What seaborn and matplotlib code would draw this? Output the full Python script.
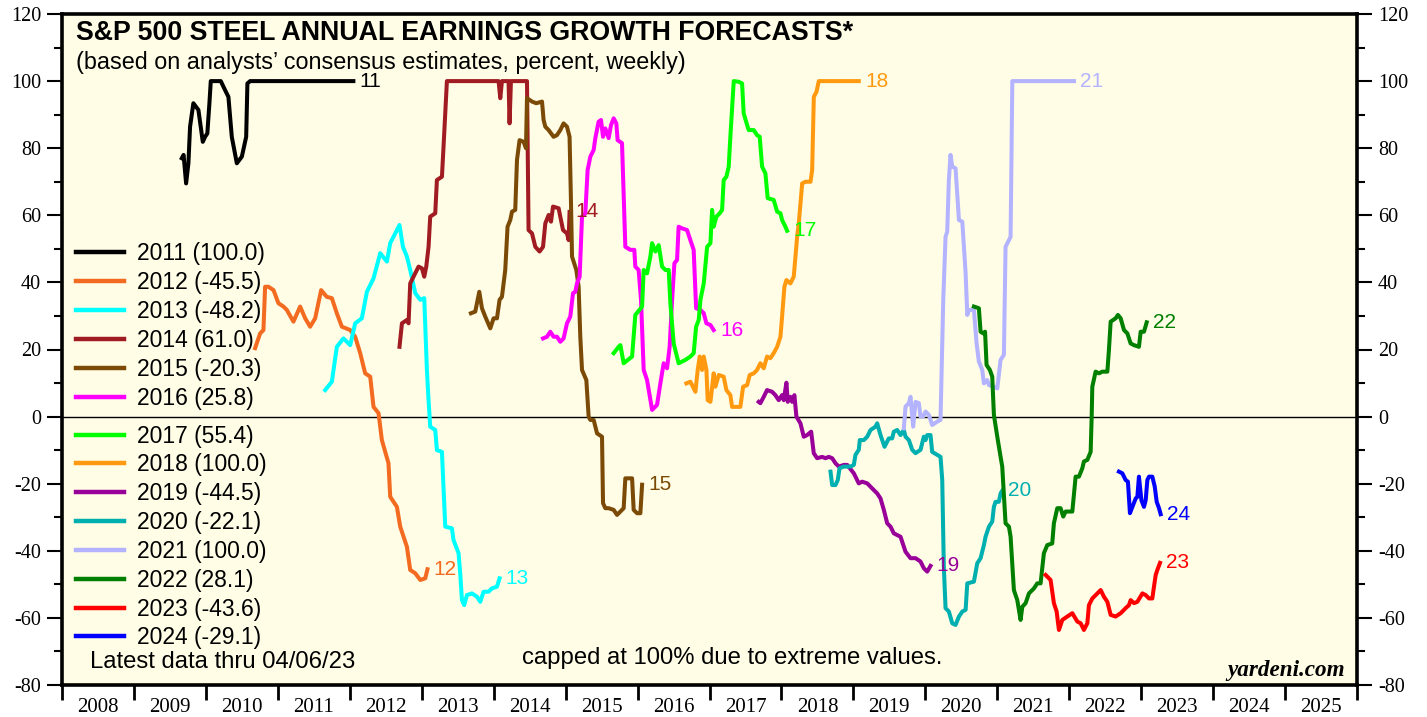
import matplotlib
matplotlib.use("Agg")
import matplotlib.pyplot as plt
from matplotlib.lines import Line2D
import numpy as np
import pandas as pd
import seaborn as sns

# ---------------- data ----------------
series_years = ["2011", "2012", "2013", "2014", "2015", "2016", "2017",
                "2018", "2019", "2020", "2021", "2022", "2023", "2024"]
final_values = [100.0, -45.5, -48.2, 61.0, -20.3, 25.8, 55.4,
                100.0, -44.5, -22.1, 100.0, 28.1, -43.6, -29.1]
colors = ["#000000", "#F26B21", "#00FFFF", "#A11C22", "#7B4A06", "#FF00FF", "#00FF00",
          "#FF9A10", "#990099", "#00AFAF", "#B3B3FF", "#007F00", "#FF0000", "#0000FF"]

s2011 = [(2009.665, 77.0), (2009.69, 78.0), (2009.725, 69.5), (2009.757, 75.5), (2009.78, 86.4),
         (2009.826, 93.4), (2009.896, 91.4), (2009.957, 81.9), (2009.989, 83.4), (2010.02, 84.4),
         (2010.049, 93.4), (2010.068, 100.0), (2010.207, 100.0), (2010.267, 97.3), (2010.313, 95.3),
         (2010.36, 83.4), (2010.43, 75.5), (2010.5, 77.5), (2010.56, 83.4), (2010.577, 99.3),
         (2010.615, 100.0), (2012.05, 100.0)]
s2012 = [(2010.684, 20.4), (2010.754, 24.8), (2010.8, 25.8), (2010.823, 38.7), (2010.87, 38.7),
         (2010.94, 37.7), (2011.008, 33.8), (2011.078, 32.8), (2011.125, 31.8), (2011.217, 28.3),
         (2011.31, 32.8), (2011.38, 29.3), (2011.449, 26.8), (2011.519, 29.3), (2011.602, 37.7),
         (2011.68, 35.7), (2011.751, 35.3), (2011.82, 30.8), (2011.89, 26.8), (2012.006, 25.8),
         (2012.075, 23.8), (2012.145, 18.9), (2012.214, 12.9), (2012.284, 11.9), (2012.33, 2.9),
         (2012.4, 1.0), (2012.446, -7.0), (2012.538, -13.9), (2012.562, -23.9), (2012.655, -26.9),
         (2012.701, -32.8), (2012.794, -38.8), (2012.84, -45.7), (2012.91, -46.7), (2012.98, -48.7),
         (2013.049, -48.2), (2013.08, -45.5)]
s2013 = [(2011.658, 7.9), (2011.751, 10.4), (2011.82, 20.8), (2011.912, 23.3), (2012.006, 21.3),
         (2012.075, 27.8), (2012.168, 29.3), (2012.238, 37.2), (2012.33, 41.2), (2012.423, 48.7),
         (2012.516, 46.2), (2012.562, 51.7), (2012.632, 54.6), (2012.691, 57.1), (2012.739, 50.6),
         (2012.794, 47.7), (2012.84, 43.7), (2012.91, 36.8), (2012.98, 34.8), (2013.035, 35.3),
         (2013.072, 13.9), (2013.095, 4.9), (2013.118, -3.0), (2013.188, -4.0), (2013.211, -10.0),
         (2013.281, -10.5), (2013.327, -32.8), (2013.42, -33.3), (2013.442, -36.8), (2013.512, -40.7),
         (2013.535, -46.7), (2013.559, -54.7), (2013.591, -56.2), (2013.628, -53.2), (2013.698, -52.7),
         (2013.768, -53.7), (2013.814, -55.2), (2013.86, -52.2), (2013.929, -52.2), (2013.976, -51.2),
         (2014.046, -50.7), (2014.082, -48.2)]
s2014 = [(2012.691, 20.8), (2012.725, 27.8), (2012.794, 28.8), (2012.817, 27.8), (2012.84, 39.7),
         (2012.886, 41.7), (2012.956, 44.7), (2013.003, 44.2), (2013.035, 41.7), (2013.063, 44.7),
         (2013.095, 50.6), (2013.118, 59.6), (2013.188, 60.6), (2013.211, 70.5), (2013.281, 71.5),
         (2013.303, 80.4), (2013.35, 100.0), (2014.068, 100.0), (2014.092, 94.9), (2014.115, 100.0),
         (2014.207, 100.0), (2014.221, 87.4), (2014.24, 100.0), (2014.463, 100.0), (2014.485, 55.6),
         (2014.533, 54.6), (2014.579, 50.6), (2014.638, 49.2), (2014.686, 50.6), (2014.718, 57.6),
         (2014.764, 60.1), (2014.797, 58.1), (2014.825, 62.6), (2014.903, 62.1), (2014.926, 59.6),
         (2014.964, 55.6), (2015.019, 54.6), (2015.042, 52.6), (2015.055, 61.0)]
s2015 = [(2013.684, 30.8), (2013.744, 31.3), (2013.8, 37.2), (2013.837, 32.3), (2013.883, 29.8),
         (2013.953, 26.3), (2013.999, 29.3), (2014.046, 29.3), (2014.082, 34.8), (2014.115, 35.7),
         (2014.161, 43.7), (2014.193, 56.6), (2014.231, 58.6), (2014.255, 61.1), (2014.3, 61.6),
         (2014.324, 76.5), (2014.36, 82.4), (2014.416, 81.9), (2014.449, 80.0), (2014.463, 94.9),
         (2014.533, 93.9), (2014.592, 93.4), (2014.672, 93.9), (2014.694, 88.4), (2014.718, 86.4),
         (2014.764, 85.4), (2014.833, 83.4), (2014.88, 83.9), (2014.926, 85.4), (2014.972, 87.4),
         (2015.019, 86.4), (2015.055, 83.4), (2015.075, 63.6), (2015.089, 47.7), (2015.149, 43.7),
         (2015.181, 38.7), (2015.204, 23.8), (2015.228, 13.9), (2015.288, 10.9), (2015.32, 0.0),
         (2015.344, -1.0), (2015.39, -1.0), (2015.437, -5.0), (2015.506, -6.0), (2015.52, -25.8),
         (2015.552, -27.3), (2015.598, -27.3), (2015.668, -27.8), (2015.715, -29.3), (2015.761, -28.3),
         (2015.807, -27.3), (2015.83, -18.4), (2015.924, -18.4), (2015.946, -27.8), (2015.993, -28.8),
         (2016.039, -28.8), (2016.063, -20.3)]
s2016 = [(2014.686, 23.3), (2014.741, 23.8), (2014.787, 25.3), (2014.833, 23.8), (2014.88, 23.8),
         (2014.926, 22.3), (2014.972, 23.3), (2015.019, 27.8), (2015.065, 29.8), (2015.103, 36.8),
         (2015.135, 37.2), (2015.158, 39.7), (2015.195, 41.7), (2015.228, 59.6), (2015.274, 60.6),
         (2015.306, 73.5), (2015.344, 77.5), (2015.39, 79.5), (2015.413, 83.0), (2015.459, 87.9),
         (2015.492, 88.4), (2015.52, 83.4), (2015.552, 85.9), (2015.598, 83.0), (2015.631, 86.9),
         (2015.668, 88.9), (2015.705, 87.4), (2015.723, 82.4), (2015.784, 81.5), (2015.83, 50.6),
         (2015.9, 49.7), (2015.955, 49.7), (2015.969, 44.7), (2016.015, 43.7), (2016.048, 34.8),
         (2016.085, 13.9), (2016.132, 10.9), (2016.202, 2.0), (2016.271, 3.5), (2016.317, 9.9),
         (2016.363, 15.9), (2016.41, 14.4), (2016.446, 20.8), (2016.48, 34.8), (2016.512, 45.7),
         (2016.549, 46.7), (2016.571, 56.6), (2016.619, 56.1), (2016.688, 55.6), (2016.734, 52.6),
         (2016.78, 49.7), (2016.814, 32.3), (2016.874, 31.8), (2016.92, 30.8), (2016.957, 27.8),
         (2017.013, 27.3), (2017.058, 25.8)]
s2017 = [(2015.668, 18.9), (2015.737, 20.8), (2015.761, 21.3), (2015.807, 15.9), (2015.924, 17.9),
         (2015.969, 30.3), (2016.063, 32.8), (2016.085, 43.7), (2016.132, 42.7), (2016.178, 47.7),
         (2016.202, 51.7), (2016.248, 49.2), (2016.294, 51.1), (2016.341, 44.7), (2016.387, 43.7),
         (2016.433, 43.7), (2016.456, 33.8), (2016.502, 21.8), (2016.571, 15.9), (2016.665, 16.9),
         (2016.734, 17.9), (2016.78, 18.9), (2016.814, 26.8), (2016.85, 28.8), (2016.874, 34.8),
         (2016.92, 39.7), (2016.967, 50.6), (2017.013, 51.7), (2017.036, 61.6), (2017.058, 56.6),
         (2017.096, 59.6), (2017.142, 60.6), (2017.175, 61.6), (2017.197, 70.5), (2017.235, 71.5),
         (2017.267, 74.5), (2017.29, 83.4), (2017.337, 100.0), (2017.406, 99.8), (2017.453, 99.3),
         (2017.475, 90.4), (2017.523, 86.9), (2017.545, 85.4), (2017.615, 85.4), (2017.661, 83.9),
         (2017.698, 83.4), (2017.731, 74.5), (2017.777, 72.5), (2017.809, 65.1), (2017.892, 64.6),
         (2017.94, 61.1), (2017.986, 60.6), (2018.009, 58.6), (2018.055, 56.6), (2018.079, 55.4)]
s2018 = [(2016.679, 9.9), (2016.734, 10.4), (2016.804, 7.4), (2016.836, 13.9), (2016.864, 17.9),
         (2016.897, 13.9), (2016.92, 17.9), (2016.957, 13.9), (2016.975, 4.9), (2017.013, 4.4),
         (2017.058, 12.9), (2017.082, 8.9), (2017.128, 12.4), (2017.197, 11.9), (2017.235, 7.9),
         (2017.29, 6.4), (2017.314, 2.9), (2017.429, 2.9), (2017.467, 8.9), (2017.523, 9.4),
         (2017.559, 12.4), (2017.615, 12.9), (2017.661, 13.9), (2017.707, 15.9), (2017.754, 14.4),
         (2017.8, 17.9), (2017.846, 17.4), (2017.892, 18.9), (2017.94, 20.8), (2017.986, 23.8),
         (2018.009, 29.8), (2018.041, 38.7), (2018.069, 40.7), (2018.125, 39.7), (2018.171, 41.7),
         (2018.218, 53.6), (2018.241, 57.6), (2018.288, 69.5), (2018.334, 70.0), (2018.404, 70.0),
         (2018.427, 73.5), (2018.45, 95.3), (2018.487, 96.8), (2018.519, 100.0), (2019.075, 100.0)]
s2019 = [(2017.684, 4.4), (2017.707, 4.0), (2017.754, 5.9), (2017.8, 7.9), (2017.87, 7.4),
         (2017.916, 6.4), (2017.962, 4.9), (2018.009, 6.4), (2018.032, 4.9), (2018.069, 10.1),
         (2018.088, 4.4), (2018.125, 5.9), (2018.148, 4.4), (2018.18, 6.4), (2018.208, 0.0),
         (2018.264, -2.0), (2018.31, -6.0), (2018.357, -5.5), (2018.413, -4.5), (2018.449, -10.9),
         (2018.496, -12.4), (2018.566, -12.0), (2018.612, -12.4), (2018.658, -12.0), (2018.705, -12.4),
         (2018.751, -13.9), (2018.798, -14.9), (2018.867, -14.4), (2018.914, -14.4), (2019.006, -16.9),
         (2019.075, -19.9), (2019.122, -19.4), (2019.192, -19.9), (2019.261, -21.4), (2019.331, -22.9),
         (2019.377, -24.4), (2019.423, -27.8), (2019.47, -31.8), (2019.516, -32.8), (2019.562, -34.8),
         (2019.655, -35.8), (2019.725, -40.3), (2019.794, -42.2), (2019.864, -42.2), (2019.933, -43.2),
         (2019.979, -45.2), (2020.026, -46.2), (2020.072, -44.5)]
s2020 = [(2018.682, -16.4), (2018.705, -20.4), (2018.751, -20.4), (2018.783, -18.9), (2018.807, -15.4),
         (2018.867, -14.9), (2018.96, -14.9), (2019.006, -14.4), (2019.029, -11.4), (2019.075, -9.9),
         (2019.089, -7.0), (2019.145, -7.0), (2019.192, -6.0), (2019.238, -4.0), (2019.307, -3.0),
         (2019.331, -2.0), (2019.377, -5.5), (2019.433, -9.0), (2019.492, -6.5), (2019.539, -6.5),
         (2019.562, -4.5), (2019.609, -4.0), (2019.655, -5.5), (2019.701, -4.0), (2019.725, -6.0),
         (2019.771, -7.0), (2019.818, -9.9), (2019.864, -10.9), (2019.933, -9.9), (2019.979, -6.0),
         (2020.003, -7.0), (2020.026, -5.5), (2020.072, -5.5), (2020.095, -10.5), (2020.165, -11.4),
         (2020.211, -12.0), (2020.235, -18.9), (2020.257, -44.7), (2020.281, -57.1), (2020.327, -58.1),
         (2020.374, -61.6), (2020.42, -62.1), (2020.467, -59.6), (2020.514, -58.1), (2020.56, -57.6),
         (2020.583, -49.7), (2020.675, -49.2), (2020.722, -43.7), (2020.768, -42.2), (2020.814, -38.3),
         (2020.837, -35.8), (2020.884, -32.8), (2020.93, -31.3), (2020.953, -26.9), (2020.976, -25.4),
         (2021.022, -25.4), (2021.046, -22.9), (2021.069, -22.1)]
s2021 = [(2019.701, -3.5), (2019.725, 3.0), (2019.771, 4.0), (2019.794, 5.9), (2019.831, -3.0),
         (2019.864, 4.4), (2019.91, 4.0), (2019.933, 0.0), (2019.97, 0.0), (2020.003, 1.5),
         (2020.049, 0.5), (2020.095, -2.5), (2020.165, -1.5), (2020.211, -1.0), (2020.249, 34.8),
         (2020.281, 53.6), (2020.304, 55.1), (2020.327, 70.5), (2020.35, 78.0), (2020.374, 74.5),
         (2020.42, 74.0), (2020.467, 58.6), (2020.514, 58.1), (2020.56, 42.7), (2020.583, 30.3),
         (2020.606, 31.8), (2020.675, 31.8), (2020.713, 21.8), (2020.744, 16.4), (2020.791, 13.9),
         (2020.814, 9.9), (2020.86, 10.9), (2020.884, 9.4), (2020.953, 8.9), (2021.0, 8.4),
         (2021.046, 16.9), (2021.092, 18.4), (2021.115, 50.6), (2021.162, 52.6), (2021.185, 53.6),
         (2021.209, 100.0), (2022.066, 100.0)]
s2022 = [(2020.675, 32.8), (2020.744, 32.3), (2020.768, 25.3), (2020.805, 24.8), (2020.83, 25.3),
         (2020.851, 15.4), (2020.897, 13.9), (2020.93, 11.9), (2020.953, 0.5), (2021.0, -6.0),
         (2021.046, -12.0), (2021.069, -14.9), (2021.115, -31.8), (2021.162, -32.8), (2021.185, -35.8),
         (2021.231, -51.7), (2021.278, -54.7), (2021.324, -60.6), (2021.348, -56.7), (2021.394, -55.6),
         (2021.44, -52.7), (2021.51, -51.2), (2021.556, -49.7), (2021.602, -49.7), (2021.648, -40.7),
         (2021.695, -38.3), (2021.764, -37.8), (2021.787, -31.8), (2021.834, -27.3), (2021.88, -27.3),
         (2021.917, -29.8), (2021.95, -28.3), (2022.043, -28.3), (2022.089, -17.9), (2022.135, -17.9),
         (2022.182, -15.4), (2022.204, -13.4), (2022.252, -12.9), (2022.298, -10.5), (2022.312, 0.0),
         (2022.321, 8.9), (2022.367, 13.4), (2022.413, 12.9), (2022.46, 13.4), (2022.53, 13.4),
         (2022.552, 19.9), (2022.576, 28.3), (2022.645, 29.3), (2022.677, 30.3), (2022.715, 29.3),
         (2022.761, 25.8), (2022.808, 24.8), (2022.854, 21.8), (2022.9, 21.3), (2022.969, 20.8),
         (2022.993, 25.3), (2023.039, 25.3), (2023.077, 28.1)]
s2023 = [(2021.672, -47.2), (2021.741, -48.7), (2021.787, -55.6), (2021.825, -58.1), (2021.857, -63.6),
         (2021.904, -60.6), (2021.973, -59.6), (2022.043, -58.6), (2022.113, -61.1), (2022.159, -61.6),
         (2022.204, -63.6), (2022.252, -61.6), (2022.274, -56.2), (2022.321, -54.2), (2022.391, -52.7),
         (2022.437, -51.7), (2022.483, -53.7), (2022.53, -55.2), (2022.576, -59.1), (2022.645, -59.6),
         (2022.715, -58.6), (2022.784, -57.1), (2022.83, -56.2), (2022.854, -54.7), (2022.9, -55.6),
         (2022.947, -55.2), (2023.017, -52.7), (2023.063, -53.2), (2023.109, -54.2), (2023.155, -54.2),
         (2023.178, -50.7), (2023.202, -47.2), (2023.225, -45.7), (2023.262, -43.6)]
s2024 = [(2022.691, -16.4), (2022.738, -16.9), (2022.784, -18.9), (2022.816, -19.4), (2022.844, -28.8),
         (2022.878, -26.9), (2022.924, -24.4), (2022.947, -23.9), (2022.969, -17.9), (2023.003, -24.9),
         (2023.039, -26.9), (2023.063, -24.9), (2023.086, -18.9), (2023.109, -17.9), (2023.155, -17.9),
         (2023.188, -20.8), (2023.216, -25.4), (2023.248, -27.3), (2023.271, -29.1)]

all_series = [s2011, s2012, s2013, s2014, s2015, s2016, s2017,
              s2018, s2019, s2020, s2021, s2022, s2023, s2024]

year_ticks = list(range(2008, 2027))
year_labels = [str(y) for y in range(2008, 2026)]
y_major = list(range(-80, 121, 20))
y_minor = list(range(-70, 120, 20))

title = "S&P 500 STEEL ANNUAL EARNINGS GROWTH FORECASTS*"
subtitle = "(based on analysts\u2019 consensus estimates, percent, weekly)"
note_latest = "Latest data thru 04/06/23"
note_cap = "capped at 100% due to extreme values."
source = "yardeni.com"

# ---------------- frame ----------------
rows = []
for name, pts in zip(series_years, all_series):
    for i, (x, y) in enumerate(pts):
        rows.append((name, i, x, y))
df = pd.DataFrame(rows, columns=["series", "order", "year", "value"])

plt.rcParams["font.family"] = ["Liberation Serif", "DejaVu Serif"]
plt.rcParams["axes.unicode_minus"] = False
SANS = ["Liberation Sans", "DejaVu Sans"]

W, H = 1427, 717
fig = plt.figure(figsize=(W / 100, H / 100), dpi=100)
fig.patch.set_facecolor("white")
L, R, T, B = 62, 1357, 14, 685
ax = fig.add_axes([L / W, 1 - B / H, (R - L) / W, (B - T) / H])
ax.set_facecolor("#FFFDE6")

ax.axhline(0, color="black", lw=1.0, zorder=1)

palette = dict(zip(series_years, colors))
sns.lineplot(data=df, x="year", y="value", hue="series", hue_order=series_years,
             palette=palette, estimator=None, sort=False, legend=False,
             linewidth=2.9, ax=ax, zorder=3)

ax.set_xlim(2008, 2026)
ax.set_ylim(-80, 120)
ax.set_xlabel("")
ax.set_ylabel("")

# end labels
for name, pts, c in zip(series_years, all_series, colors):
    x, y = pts[-1]
    ax.annotate(name[-2:], xy=(x, y), xytext=(4.5, 0), textcoords="offset points",
                va="center", ha="left", color=c, fontsize=15, family=SANS, zorder=4)

# ticks
ax.set_xticks(year_ticks)
ax.set_xticklabels([])
ax.set_xticks([y + 0.5 for y in range(2008, 2026)], minor=True)
ax.set_xticklabels(year_labels, minor=True)
ax.tick_params(axis="x", which="major", direction="out", length=11, width=2, bottom=True, top=False)
ax.tick_params(axis="x", which="minor", length=0, pad=9, labelsize=15)

ax.set_yticks(y_major)
ax.set_yticks(y_minor, minor=True)
ax.tick_params(axis="y", which="both", direction="out", left=True, right=True,
               labelleft=True, labelright=True, width=1.5)
ax.tick_params(axis="y", which="major", length=11, pad=4, labelsize=14.5)
ax.tick_params(axis="y", which="minor", length=6)

for s in ax.spines.values():
    s.set_linewidth(2.6)
    s.set_color("black")

# titles & notes
ax.text(0.0108, 0.972, title, transform=ax.transAxes, ha="left", va="center",
        fontsize=19.3, fontweight="bold", family=SANS)
ax.text(0.0108, 0.928, subtitle, transform=ax.transAxes, ha="left", va="center",
        fontsize=16.8, family=SANS)
ax.text(0.0216, 0.034, note_latest, transform=ax.transAxes, ha="left", va="center",
        fontsize=17.2, family=SANS)
ax.text(0.355, 0.040, note_cap, transform=ax.transAxes, ha="left", va="center",
        fontsize=17.2, family=SANS)
ax.text(0.9907, 0.022, source, transform=ax.transAxes, ha="right", va="center",
        fontsize=16.7, fontweight="bold", fontstyle="italic", family=["Liberation Serif"])

# legends (two blocks separated by the zero line)
handles = [Line2D([], [], color=c, lw=3.2) for c in colors]
labels = [f"{y} ({v:.1f})" for y, v in zip(series_years, final_values)]
leg_kw = dict(frameon=False, loc="center left", borderpad=0, borderaxespad=0,
              handlelength=2.1, handletextpad=0.55, labelspacing=0.255,
              prop={"family": SANS, "size": 16.5})
leg1 = ax.legend(handles[:6], labels[:6], bbox_to_anchor=(0.0108, (B - 326) / (B - T)), **leg_kw)
ax.add_artist(leg1)
leg2 = ax.legend(handles[6:], labels[6:], bbox_to_anchor=(0.0108, (B - 537) / (B - T)), **leg_kw)

fig.savefig("out.png", dpi=100, facecolor="white")
